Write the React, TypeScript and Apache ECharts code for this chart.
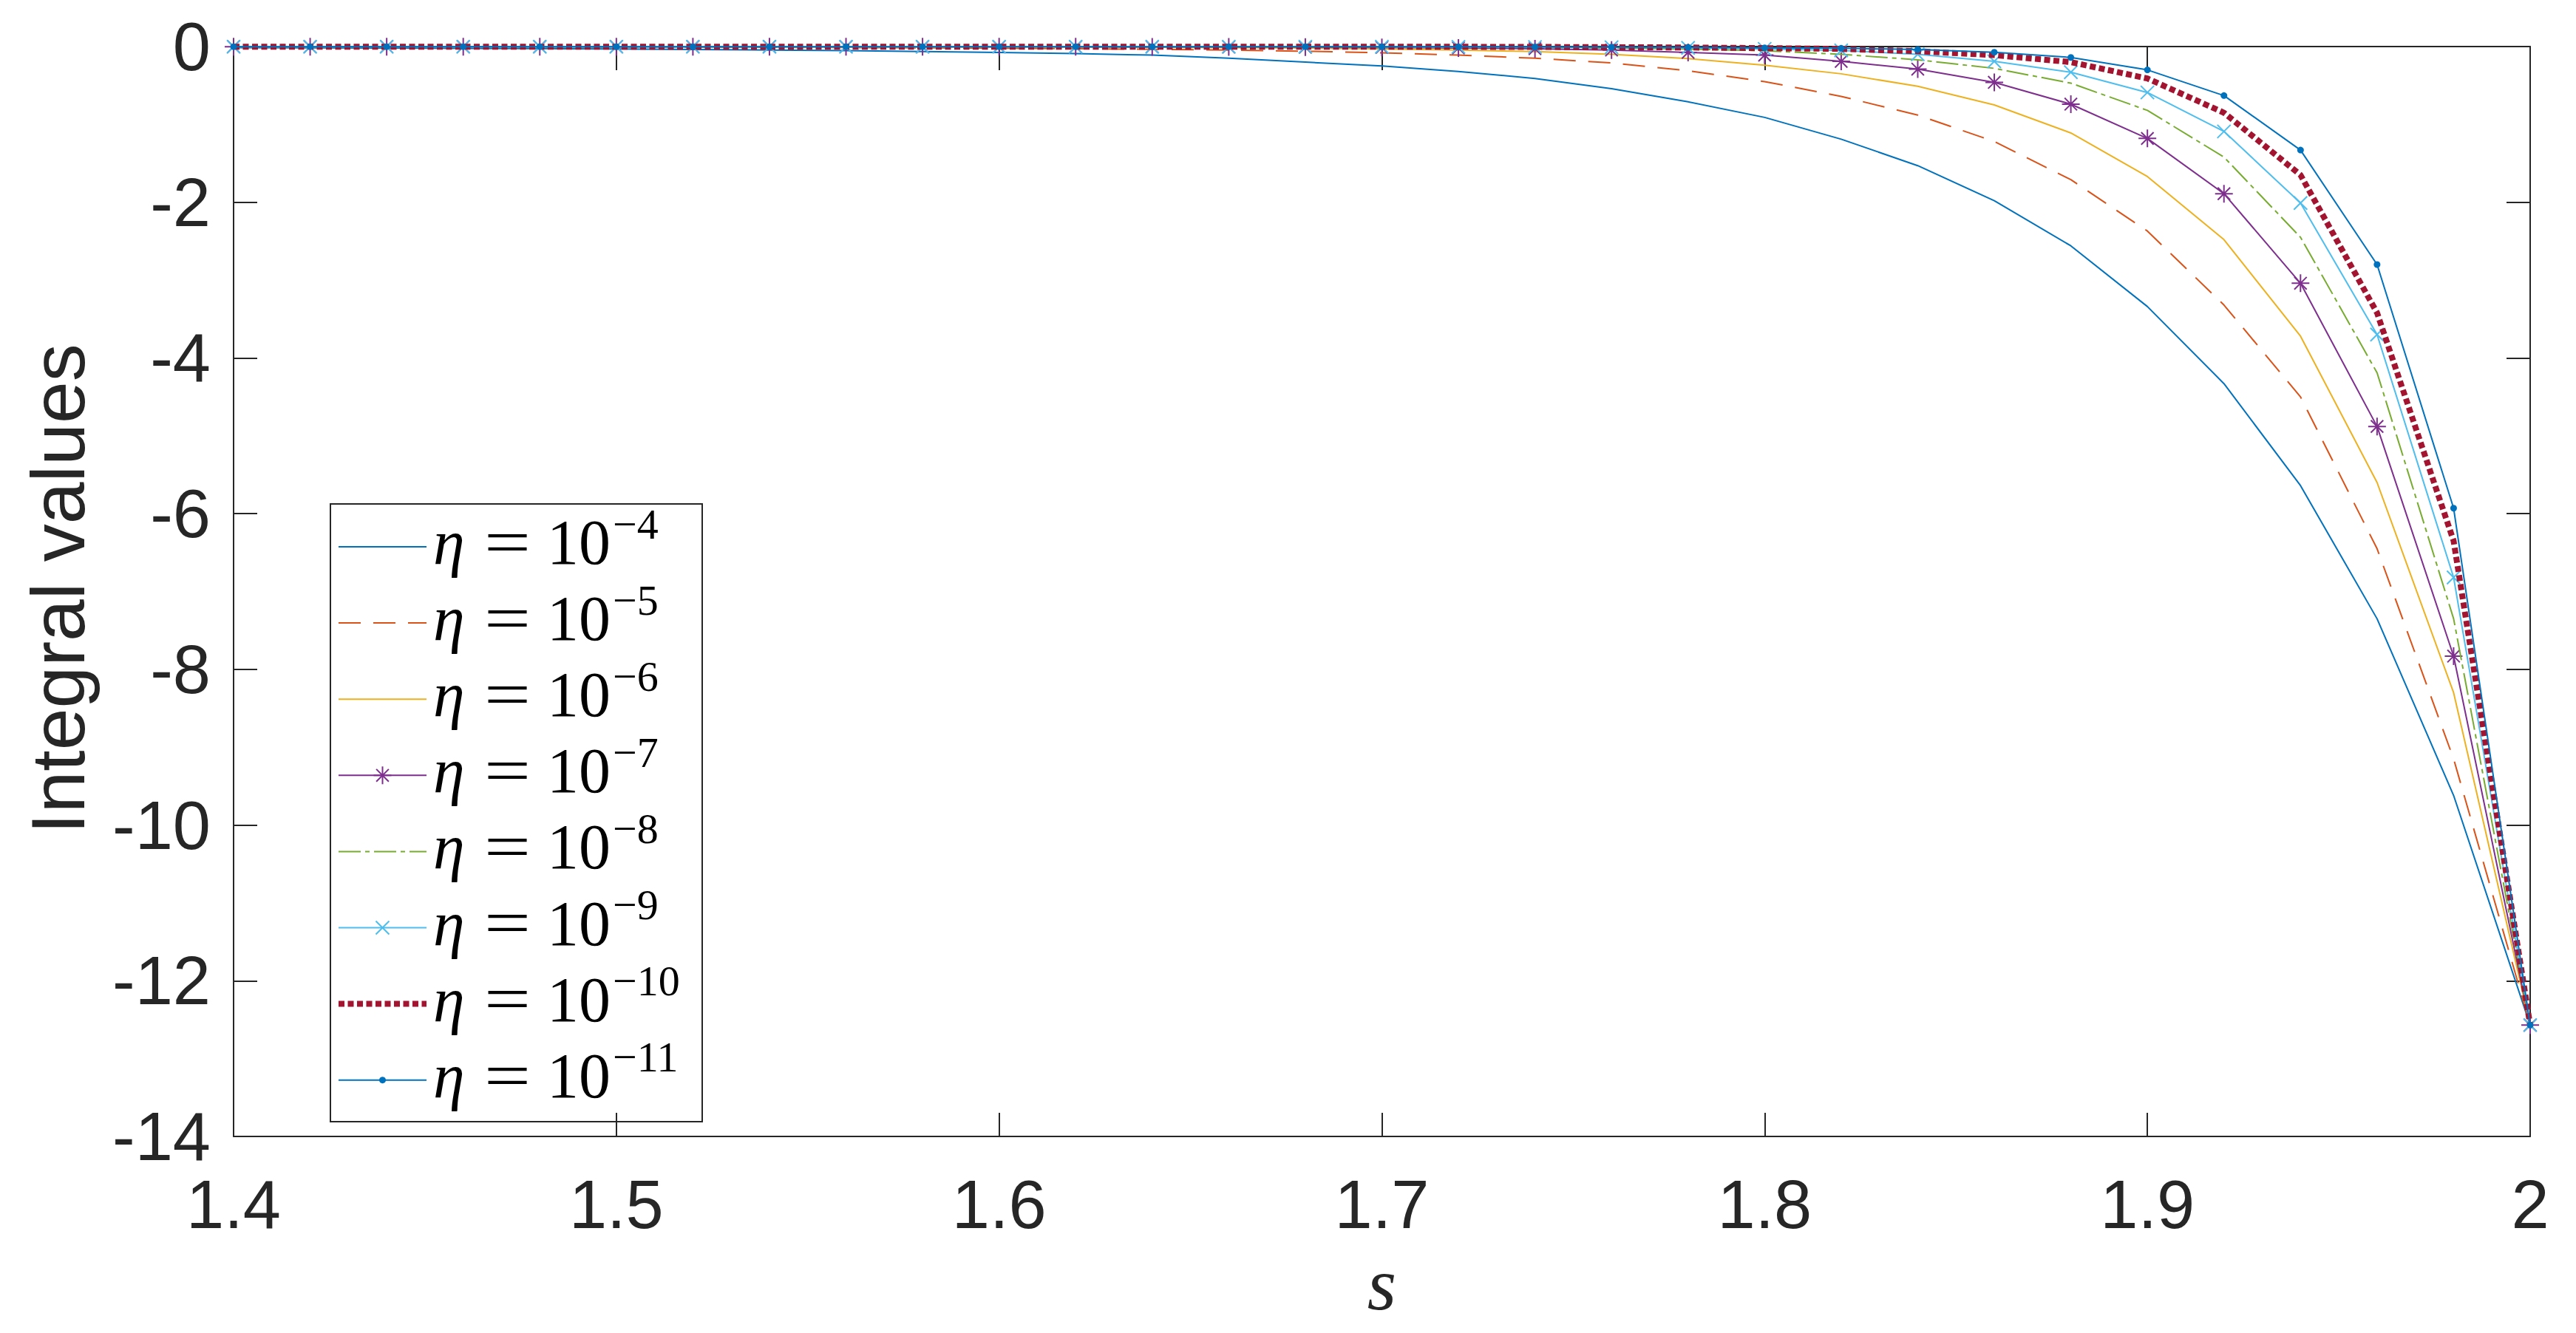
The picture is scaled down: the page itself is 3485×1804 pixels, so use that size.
import React, { useEffect, useRef } from "react";
import * as echarts from "echarts";

// ---------- data ----------
const sValues = [
  1.4, 1.42, 1.44, 1.46, 1.48, 1.5, 1.52, 1.54, 1.56, 1.58, 1.6, 1.62, 1.64, 1.66, 1.68, 1.7,
  1.72, 1.74, 1.76, 1.78, 1.8, 1.82, 1.84, 1.86, 1.88, 1.9, 1.92, 1.94, 1.96, 1.98, 2.0,
];

const eta1e4 = [
  -0.015, -0.017, -0.02, -0.023, -0.027, -0.032, -0.038, -0.045, -0.053, -0.063, -0.075, -0.09,
  -0.11, -0.15, -0.2, -0.25, -0.32, -0.41, -0.54, -0.71, -0.91, -1.19, -1.53, -1.98, -2.56,
  -3.34, -4.33, -5.64, -7.35, -9.62, -12.57,
];
const eta1e5 = [
  -0.004, -0.004, -0.005, -0.005, -0.006, -0.006, -0.008, -0.01, -0.013, -0.016, -0.021, -0.027,
  -0.035, -0.045, -0.06, -0.08, -0.11, -0.15, -0.21, -0.31, -0.45, -0.64, -0.88, -1.22, -1.71,
  -2.37, -3.32, -4.5, -6.45, -9.15, -12.57,
];
const eta1e6 = [
  -0.002, -0.002, -0.002, -0.002, -0.003, -0.003, -0.003, -0.003, -0.004, -0.004, -0.005, -0.007,
  -0.01, -0.014, -0.02, -0.03, -0.045, -0.065, -0.1, -0.155, -0.24, -0.35, -0.51, -0.75, -1.11,
  -1.67, -2.48, -3.72, -5.6, -8.3, -12.57,
];
const eta1e7 = [
  -0.002, -0.002, -0.002, -0.002, -0.002, -0.002, -0.002, -0.002, -0.002, -0.003, -0.003, -0.003,
  -0.004, -0.005, -0.008, -0.012, -0.018, -0.028, -0.045, -0.075, -0.11, -0.19, -0.29, -0.46,
  -0.74, -1.18, -1.89, -3.04, -4.88, -7.83, -12.57,
];
const eta1e8 = [
  -0.002, -0.002, -0.002, -0.002, -0.002, -0.002, -0.002, -0.002, -0.002, -0.002, -0.002, -0.002,
  -0.002, -0.003, -0.003, -0.004, -0.007, -0.011, -0.019, -0.032, -0.054, -0.1, -0.17, -0.28,
  -0.47, -0.82, -1.42, -2.45, -4.19, -7.35, -12.57,
];
const eta1e9 = [
  -0.002, -0.002, -0.002, -0.002, -0.002, -0.002, -0.002, -0.002, -0.002, -0.002, -0.002, -0.002,
  -0.002, -0.002, -0.002, -0.003, -0.004, -0.006, -0.01, -0.017, -0.03, -0.05, -0.1, -0.19, -0.33,
  -0.59, -1.09, -2.01, -3.7, -6.82, -12.57,
];
const eta1e10 = [
  -0.002, -0.002, -0.002, -0.002, -0.002, -0.002, -0.002, -0.002, -0.002, -0.002, -0.002, -0.002,
  -0.002, -0.002, -0.002, -0.002, -0.003, -0.005, -0.008, -0.012, -0.02, -0.03, -0.06, -0.11,
  -0.2, -0.41, -0.85, -1.65, -3.42, -6.35, -12.57,
];
const eta1e11 = [
  -0.002, -0.002, -0.002, -0.002, -0.002, -0.002, -0.002, -0.002, -0.002, -0.002, -0.002, -0.002,
  -0.002, -0.002, -0.002, -0.002, -0.003, -0.004, -0.007, -0.01, -0.016, -0.022, -0.038, -0.073,
  -0.14, -0.3, -0.63, -1.33, -2.8, -5.93, -12.57,
];

const seriesValues = [eta1e4, eta1e5, eta1e6, eta1e7, eta1e8, eta1e9, eta1e10, eta1e11];
const seriesNames = [
  "η = 10^-4",
  "η = 10^-5",
  "η = 10^-6",
  "η = 10^-7",
  "η = 10^-8",
  "η = 10^-9",
  "η = 10^-10",
  "η = 10^-11",
];
const legendExponents = ["−4", "−5", "−6", "−7", "−8", "−9", "−10", "−11"];

const xTickLabels = ["1.4", "1.5", "1.6", "1.7", "1.8", "1.9", "2"];

// ---------- styles ----------
const COLORS = ["#0072BD", "#D95319", "#EDB120", "#7E2F8E", "#77AC30", "#4DBEEE", "#A2142F", "#0072BD"];
const LINE_WIDTHS = [2, 2, 2, 2, 2, 2, 8, 2];
const DASHES: (number[] | "solid")[] = [
  "solid",
  [30, 17],
  "solid",
  "solid",
  [30, 6, 6, 6],
  "solid",
  [8, 4.5],
  "solid",
];
const ASTERISK = "path://M0,-1L0,1M-1,0L1,0M-0.7,-0.7L0.7,0.7M-0.7,0.7L0.7,-0.7";
const CROSS = "path://M-1,-1L1,1M-1,1L1,-1";
const MARKERS = ["none", "none", "none", ASTERISK, "none", CROSS, "none", "circle"];
const MARKER_SIZES = [0, 0, 0, 24, 0, 18, 0, 9];

const AX = "#262626";
const SANS = '"Liberation Sans", Arial, Helvetica, sans-serif';
const SERIF = '"Liberation Serif", "Times New Roman", serif';

const GRID = { left: 316, right: 62, top: 63, bottom: 266 };

function buildLegend() {
  const box = { x: 447, y: 682, w: 503, h: 836 };
  const rowY0 = 740;
  const rowStep = 103.1;
  const children: any[] = [
    {
      type: "rect",
      shape: { x: box.x, y: box.y, width: box.w, height: box.h },
      style: { fill: "#ffffff", stroke: AX, lineWidth: 2 },
    },
  ];
  seriesNames.forEach((_, i) => {
    const y = rowY0 + i * rowStep;
    const dash = DASHES[i];
    children.push({
      type: "line",
      shape: { x1: 458, y1: y, x2: 577, y2: y },
      style: {
        stroke: COLORS[i],
        lineWidth: LINE_WIDTHS[i],
        lineDash: dash === "solid" ? null : dash,
      },
    });
    const cx = 517.5;
    if (MARKERS[i] === ASTERISK) {
      const r = 12;
      const d = 12 * 0.7;
      [
        [0, -r, 0, r],
        [-r, 0, r, 0],
        [-d, -d, d, d],
        [-d, d, d, -d],
      ].forEach((l) =>
        children.push({
          type: "line",
          shape: { x1: cx + l[0], y1: y + l[1], x2: cx + l[2], y2: y + l[3] },
          style: { stroke: COLORS[i], lineWidth: 2 },
        })
      );
    } else if (MARKERS[i] === CROSS) {
      const r = 9;
      [
        [-r, -r, r, r],
        [-r, r, r, -r],
      ].forEach((l) =>
        children.push({
          type: "line",
          shape: { x1: cx + l[0], y1: y + l[1], x2: cx + l[2], y2: y + l[3] },
          style: { stroke: COLORS[i], lineWidth: 2 },
        })
      );
    } else if (MARKERS[i] === "circle") {
      children.push({
        type: "circle",
        shape: { cx, cy: y, r: 4.5 },
        style: { fill: COLORS[i] },
      });
    }
    // text parts
    children.push({
      type: "text",
      x: 586,
      y: y - 6,
      style: {
        text: "η",
        fontSize: 86,
        fontStyle: "italic",
        fontFamily: SERIF,
        fill: "#000",
        align: "left",
        verticalAlign: "middle",
      },
    });
    children.push({
      type: "text",
      x: 655,
      y: y - 6,
      scaleX: 1.3,
      style: {
        text: "=",
        fontSize: 86,
        fontFamily: SERIF,
        fill: "#000",
        align: "left",
        verticalAlign: "middle",
      },
    });
    children.push({
      type: "text",
      x: 740,
      y: y - 6,
      style: {
        text: "10",
        fontSize: 86,
        fontFamily: SERIF,
        fill: "#000",
        align: "left",
        verticalAlign: "middle",
      },
    });
    children.push({
      type: "text",
      x: 829,
      y: y - 31,
      style: {
        text: legendExponents[i],
        fontSize: 58,
        fontFamily: SERIF,
        fill: "#000",
        align: "left",
        verticalAlign: "middle",
      },
    });
  });
  return { type: "group", z: 100, children };
}

export default function App() {
  const ref = useRef<HTMLDivElement>(null);

  useEffect(() => {
    if (!ref.current) return;
    document.body.style.margin = "0";
    const chart = echarts.init(ref.current, undefined, { renderer: "svg" });

    const axisCommon = {
      type: "value" as const,
      axisLine: { show: true, onZero: false, lineStyle: { color: AX, width: 2 } },
      axisTick: { show: true, inside: true, length: 32, lineStyle: { color: AX, width: 2 } },
      splitLine: { show: false },
    };

    const series = seriesValues.map((vals, i) => ({
      name: seriesNames[i],
      type: "line",
      data: sValues.map((s, k) => [s, vals[k]]),
      xAxisIndex: 0,
      yAxisIndex: 0,
      clip: false,
      silent: true,
      symbol: MARKERS[i],
      symbolSize: MARKER_SIZES[i],
      showSymbol: MARKERS[i] !== "none",
      itemStyle: { color: COLORS[i], borderColor: COLORS[i], borderWidth: MARKERS[i] === "circle" ? 0 : 2 },
      lineStyle: { color: COLORS[i], width: LINE_WIDTHS[i], type: DASHES[i] },
      emphasis: { disabled: true },
      z: 2 + i,
    }));

    const option: any = {
      animation: false,
      backgroundColor: "#ffffff",
      grid: { ...GRID, containLabel: false },
      xAxis: [
        {
          ...axisCommon,
          position: "bottom",
          min: 1.4,
          max: 2,
          interval: 0.1,
          axisLabel: {
            show: true,
            margin: 46,
            fontSize: 92,
            fontFamily: SANS,
            color: AX,
            formatter: (v: number) => {
              const idx = Math.round((v - 1.4) / 0.1);
              return xTickLabels[idx] ?? "";
            },
          },
        },
        {
          ...axisCommon,
          position: "top",
          min: 1.4,
          max: 2,
          interval: 0.1,
          axisLabel: { show: false },
        },
      ],
      yAxis: [
        {
          ...axisCommon,
          position: "left",
          min: -14,
          max: 0,
          interval: 2,
          axisLabel: {
            show: true,
            margin: 31,
            fontSize: 92,
            fontFamily: SANS,
            color: AX,
          },
        },
        {
          ...axisCommon,
          position: "right",
          min: -14,
          max: 0,
          interval: 2,
          axisLabel: { show: false },
        },
      ],
      series,
      graphic: [
        {
          type: "text",
          x: 79,
          y: 797,
          rotation: Math.PI / 2,
          style: {
            text: "Integral values",
            fontSize: 102,
            fontFamily: SANS,
            fill: AX,
            align: "center",
            verticalAlign: "middle",
          },
        },
        {
          type: "text",
          x: 1869.5,
          y: 1738,
          style: {
            text: "s",
            fontSize: 101,
            fontStyle: "italic",
            fontFamily: SERIF,
            fill: AX,
            align: "center",
            verticalAlign: "middle",
          },
        },
        buildLegend(),
      ],
    };

    chart.setOption(option);
    return () => {
      chart.dispose();
    };
  }, []);

  return (
    <div
      ref={ref}
      style={{ position: "absolute", left: 0, top: 0, width: 3485, height: 1804 }}
    />
  );
}
